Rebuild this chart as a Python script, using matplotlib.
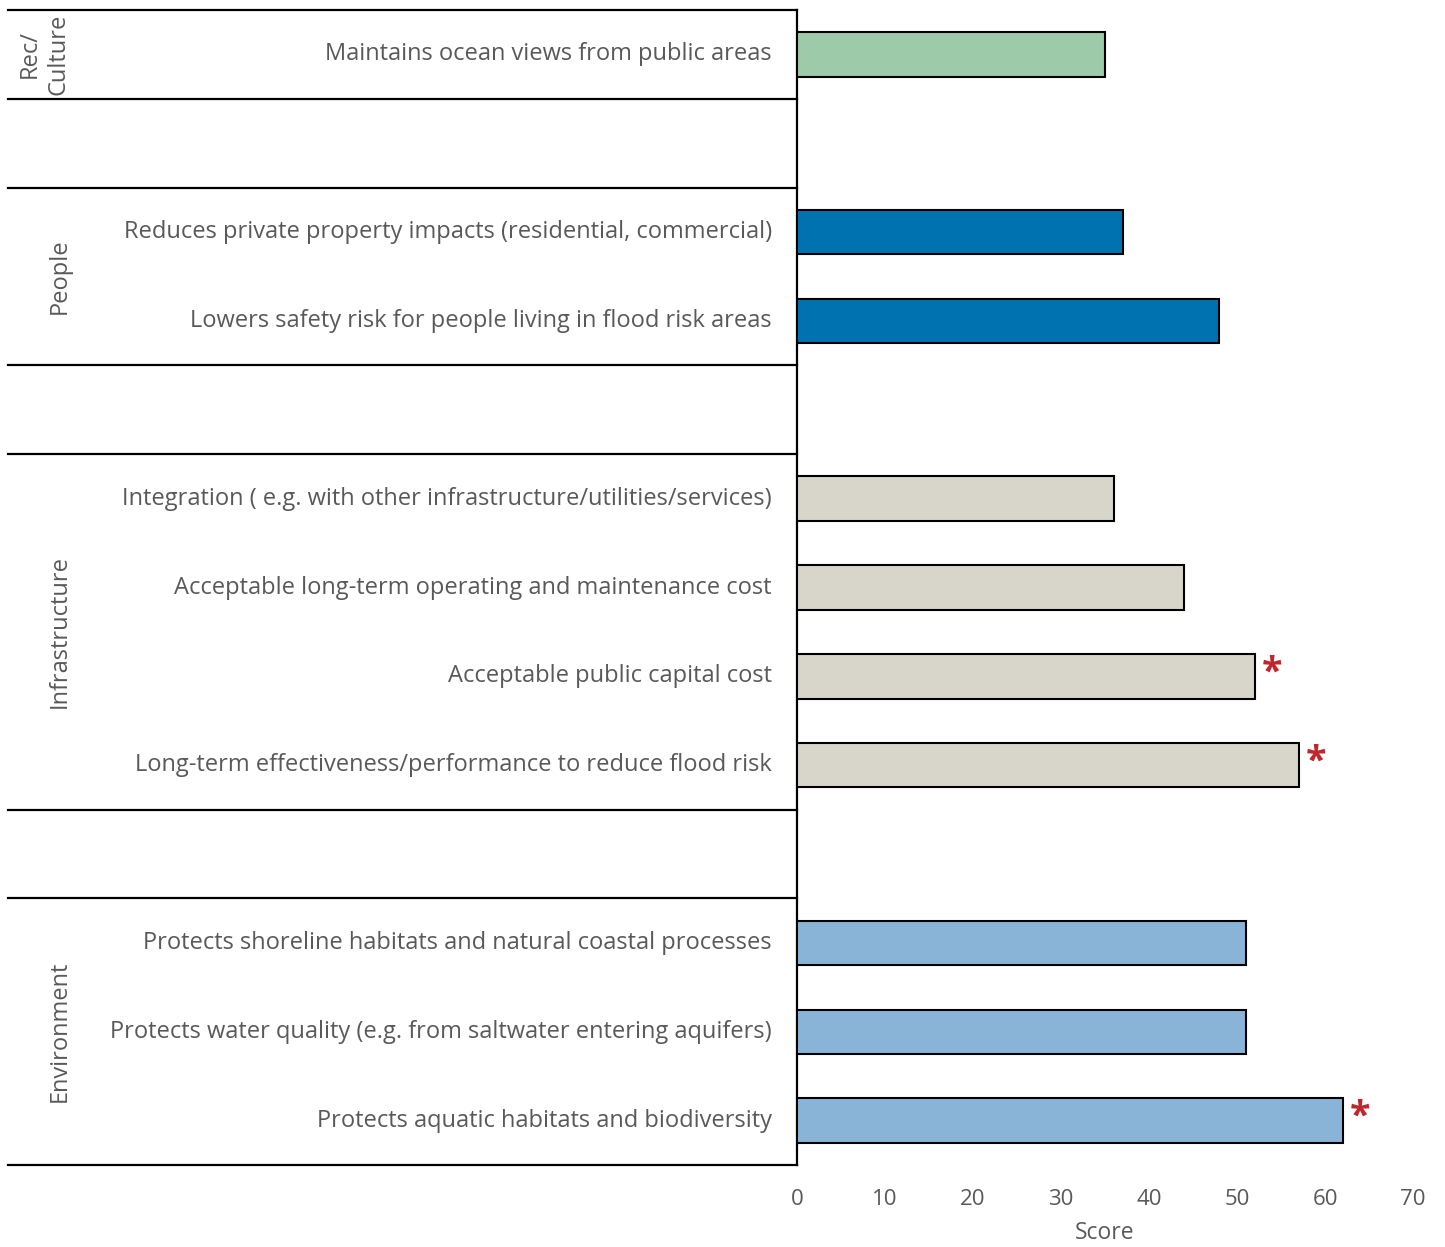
#!/usr/bin/env python3
import matplotlib
matplotlib.use("Agg")
import matplotlib.pyplot as plt
import matplotlib.transforms as mtrans

plt.rcParams["font.family"] = ["Open Sans", "DejaVu Sans"]

LABELS = [
    "Maintains ocean views from public areas",
    None,
    "Reduces private property impacts (residential, commercial)",
    "Lowers safety risk for people living in flood risk areas",
    None,
    "Integration ( e.g. with other infrastructure/utilities/services)",
    "Acceptable long-term operating and maintenance cost",
    "Acceptable public capital cost",
    "Long-term effectiveness/performance to reduce flood risk",
    None,
    "Protects shoreline habitats and natural coastal processes",
    "Protects water quality (e.g. from saltwater entering aquifers)",
    "Protects aquatic habitats and biodiversity",
]
SCORES = [35, None, 37, 48, None, 36, 44, 52, 57, None, 51, 51, 62]
GROUP = ["rec", None, "people", "people", None, "infra", "infra", "infra", "infra",
         None, "env", "env", "env"]
SIGNIF = [False, False, False, False, False, False, False, True, True, False,
          False, False, True]

GROUP_NAMES = ["Rec/\nCulture", "People", "Infrastructure", "Environment"]
GROUP_SPANS = [(0, 0), (2, 3), (5, 8), (10, 12)]
COLORS = {"rec": "#9DCAA8", "people": "#0072B0", "infra": "#D8D6CA", "env": "#89B4D8"}
TXT = "#595959"

W, H = 1445, 1247
fig = plt.figure(figsize=(W / 100, H / 100), dpi=100)
x0, x1, ytop, ybot = 797, 1413, 10, 1165
ax = fig.add_axes([x0 / W, (H - ybot) / H, (x1 - x0) / W, (ybot - ytop) / H])

n = len(LABELS)
for i, (s, g, lab, sig) in enumerate(zip(SCORES, GROUP, LABELS, SIGNIF)):
    if s is None:
        continue
    ax.barh(i, s, height=0.5, color=COLORS[g], edgecolor="black", linewidth=1.5, zorder=3)
    ax.annotate(lab, xy=(0, i), xycoords="data", xytext=(-25, 0), textcoords="offset pixels",
                ha="right", va="center", fontsize=17, color=TXT, annotation_clip=False)
    if sig:
        ax.annotate("*", xy=(s, i), xytext=(7, 3), textcoords="offset pixels",
                    ha="left", va="center", fontsize=27, fontweight="bold",
                    color="#C0272D", annotation_clip=False)

ax.set_xlim(0, 70)
ax.set_ylim(n - 0.5, -0.5)
ax.set_yticks([])
ax.set_xticks(range(0, 71, 10))
ax.tick_params(axis="x", length=0, pad=17, labelsize=16, labelcolor=TXT)
ax.set_xlabel("Score", fontsize=16.5, color=TXT, labelpad=8)
for sp in ("top", "right", "bottom"):
    ax.spines[sp].set_visible(False)
ax.spines["left"].set_linewidth(1.6)

# group separators on the left panel
trans = mtrans.blended_transform_factory(ax.transAxes, ax.transData)
xl = (8 - x0) / (x1 - x0)
for yb in [-0.5, 0.5, 1.5, 3.5, 4.5, 8.5, 9.5, 12.5]:
    ax.plot([xl, 0], [yb, yb], color="black", lw=1.6, transform=trans, clip_on=False)

gx = [(44 - x0) / (x1 - x0)] + [(60 - x0) / (x1 - x0)] * 3
for name, (a, b), xx in zip(GROUP_NAMES, GROUP_SPANS, gx):
    ax.text(xx, (a + b) / 2, name, transform=trans, rotation=90, ha="center",
            va="center", fontsize=17, color=TXT, linespacing=1.3, multialignment="center")

fig.savefig("out.png", dpi=100)
